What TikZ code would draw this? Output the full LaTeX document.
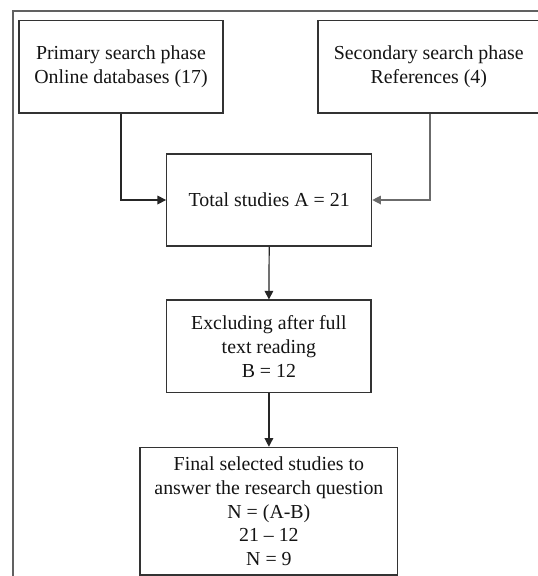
\documentclass[tikz,border=0pt]{standalone}
\usepackage{fontspec}
\setmainfont{Liberation Serif}
\usetikzlibrary{arrows.meta}
\begin{document}
\begin{tikzpicture}[x=0.75pt,y=-0.75pt,
  box/.style={draw=black!80,line width=0.9pt,inner sep=0pt,align=center,
    font=\fontsize{14.9}{17.8}\selectfont,text=black!92},
  conn/.style={draw=black!85,line width=0.9pt,-{Triangle[length=6.5pt,width=6.5pt]}},
  frame/.style={draw=black!62,line width=0.9pt}]
\useasboundingbox (0,0) rectangle (538,576);
\fill[white] (0,0) rectangle (538,576);
\draw[frame] (13,577) -- (13,11) -- (540,11);
\node[box,minimum width=153pt,minimum height=69.2pt] (prim) at (121,66.8)
  {Primary search phase\\Online databases (17)};
\node[box,minimum width=166.1pt,minimum height=69.2pt] (sec) at (428.75,66.8)
  {Secondary search phase\\References (4)};
\node[box,minimum width=153.75pt,minimum height=69pt] (total) at (269.2,200)
  {Total studies A = 21};
\node[box,minimum width=153.2pt,minimum height=69.5pt] (excl) at (268.9,346.4)
  {Excluding after full\\text reading\\B = 12};
\node[box,minimum width=193.3pt,minimum height=95.8pt] (final) at (268.9,511.2)
  {Final selected studies to\\answer the research question\\N = (A-B)\\21 -- 12\\N = 9};
\draw[conn] (prim.south) |- (total.west);
\draw[conn,draw=black!58] ([xshift=1pt]sec.south) |- (total.east);
\draw[conn] (total.south) -- (excl.north);
\draw[conn] (excl.south) -- (final.north);
\end{tikzpicture}
\end{document}
